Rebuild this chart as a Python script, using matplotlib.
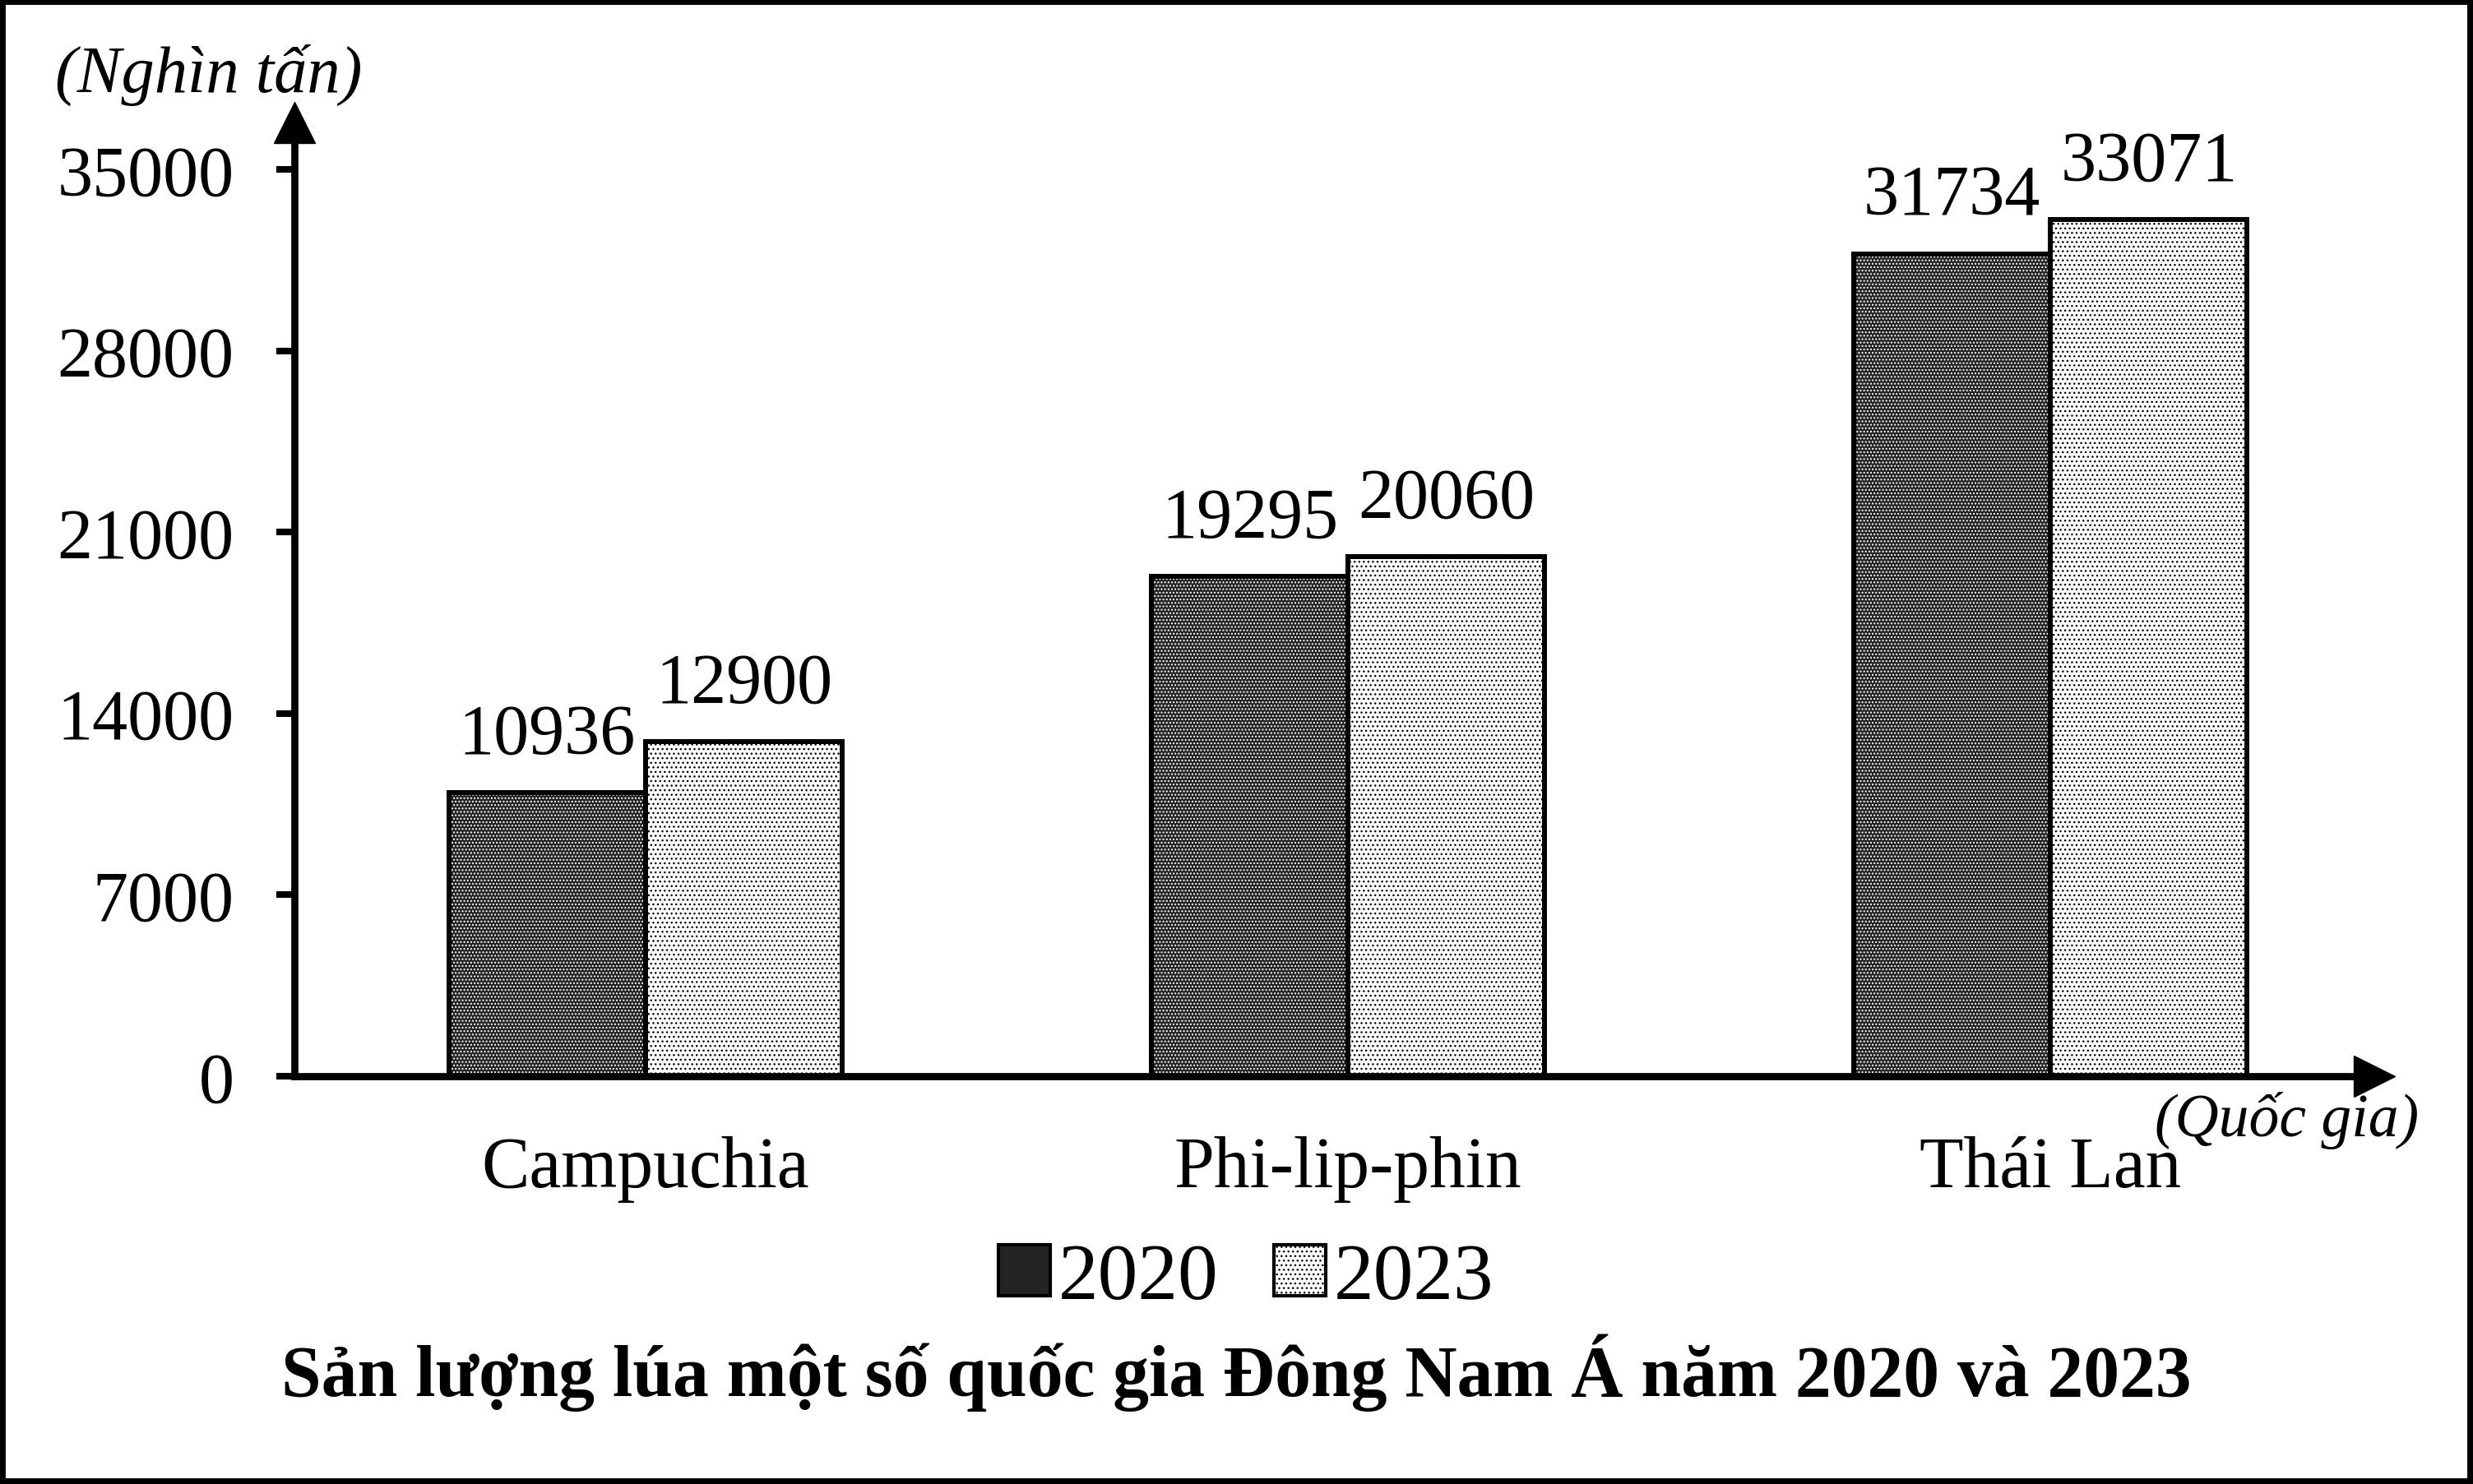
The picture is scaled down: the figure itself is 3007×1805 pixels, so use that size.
import matplotlib
matplotlib.use("Agg")
import matplotlib.pyplot as plt
from matplotlib.patches import Patch, Rectangle

plt.rcParams['font.family'] = ['Liberation Serif', 'DejaVu Serif']
plt.rcParams['hatch.linewidth'] = 1.0

# Data
countries = ["Campuchia", "Phi-lip-phin", "Thái Lan"]
years = ["2020", "2023"]
prod_2020 = [10936, 19295, 31734]
prod_2023 = [12900, 20060, 33071]
y_ticks = [0, 7000, 14000, 21000, 28000, 35000]

title = "Sản lượng lúa một số quốc gia Đông Nam Á năm 2020 và 2023"

fig = plt.figure(figsize=(30.07, 18.06), dpi=100)
ax = fig.add_axes([0.11906, 0.27464, 0.84103, 0.64230])

x = list(range(len(countries)))
w = 0.28
x1 = [i - w / 2 for i in x]
x2 = [i + w / 2 for i in x]

dark = '#242424'

# 2020 bars: dark with white dots, black outline
ax.bar(x1, prod_2020, w, color=dark, edgecolor='white', hatch='....', lw=0)
ax.bar(x1, prod_2020, w, fill=False, edgecolor='black', lw=4.3)
# 2023 bars: white with black dots
ax.bar(x2, prod_2023, w, color='white', edgecolor='black', hatch='...', lw=4.3)

# value labels
for xi, v in zip(x1, prod_2020):
    ax.annotate(str(v), (xi, v), xytext=(0, 35), textcoords='offset points',
                ha='center', va='baseline', fontsize=62)
for xi, v in zip(x2, prod_2023):
    ax.annotate(str(v), (xi, v), xytext=(0, 35), textcoords='offset points',
                ha='center', va='baseline', fontsize=62)

ax.set_xlim(-0.5, 2.461)
ax.set_ylim(0, 36810)

ax.set_yticks(y_ticks)
ax.set_yticklabels([str(t) for t in y_ticks])
ax.tick_params(axis='y', length=16, width=5.8, pad=37, labelsize=62, direction='out')

ax.set_xticks(x)
ax.set_xticklabels(countries)
ax.tick_params(axis='x', length=0, pad=52, labelsize=63)

for s in ['top', 'right']:
    ax.spines[s].set_visible(False)
for s in ['left', 'bottom']:
    ax.spines[s].set_linewidth(6.3)

# axis arrows
ax.plot([0], [1], marker='^', ms=36, color='black', transform=ax.transAxes, clip_on=False)
ax.plot([1], [0], marker='>', ms=36, color='black', transform=ax.transAxes, clip_on=False)

# unit labels
fig.text(67 / 3007, 1 - 112 / 1806, "(Nghìn tấn)", fontsize=58, style='italic',
         ha='left', va='baseline')
fig.text(2620 / 3007, 1 - 1382 / 1806, "(Quốc gia)", fontsize=53, style='italic',
         ha='left', va='baseline')

# legend
handles = [
    Patch(facecolor=dark, edgecolor='black', lw=3),
    Patch(facecolor='white', edgecolor='black', lw=3, hatch='...'),
]
fig.legend(handles, years, loc='center', bbox_to_anchor=(0.5038, 0.1379), ncol=2,
           frameon=False, fontsize=70, handlelength=0.65, handleheight=0.6,
           handletextpad=0.1, columnspacing=0.69, borderpad=0, borderaxespad=0)

fig.text(0.5, 0.0753, title, ha='center', va='center', fontsize=63, fontweight='bold')

# outer frame
fig.add_artist(Rectangle((0, 0), 1, 1, transform=fig.transFigure, fill=False,
                         lw=10, edgecolor='black'))

fig.savefig("out.png", dpi=100)
